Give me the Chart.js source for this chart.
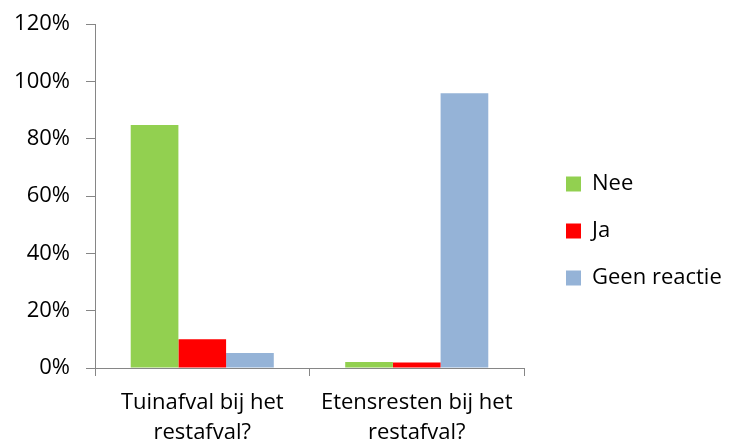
<!DOCTYPE html>
<html>
<head>
<meta charset="utf-8">
<script src="https://cdn.jsdelivr.net/npm/chart.js@4/dist/chart.umd.min.js"></script>
<style>
  body { margin: 0; background: #fff; }
  canvas { display: block; }
</style>
</head>
<body>
<canvas id="chart" width="734" height="446"></canvas>
<script>
// categories and series (percentages)
const categories = [['Tuinafval bij het', 'restafval?'], ['Etensresten bij het', 'restafval?']];
const nee = [84.8, 2.1];
const ja = [10.0, 1.9];
const geenReactie = [5.2, 95.8];
const yTicks = [0, 20, 40, 60, 80, 100, 120];

const axisGrey = '#868686';
const fontFamily = '"Open Sans", "Noto Sans", sans-serif';

// legend takes a fixed width, items start a bit away from the plot
const legendSpace = {
  id: 'legendSpace',
  beforeLayout(chart) {
    const lg = chart.legend;
    if (lg && !lg._wrapped) {
      const fit = lg.fit;
      lg.fit = function () { fit.call(this); this.width = 210; };
      lg._wrapped = true;
    }
  },
  afterLayout(chart) {
    const lg = chart.legend;
    if (lg) { lg.left += 17; lg.top -= 8; }
  }
};

const ctx = document.getElementById('chart').getContext('2d');
const chart = new Chart(ctx, {
  type: 'bar',
  data: {
    labels: categories,
    datasets: [
      { label: 'Nee', data: nee, backgroundColor: '#92D050' },
      { label: 'Ja', data: ja, backgroundColor: '#FF0000' },
      { label: 'Geen reactie', data: geenReactie, backgroundColor: '#95B3D7' }
    ]
  },
  plugins: [legendSpace],
  options: {
    responsive: false,
    animation: false,
    layout: { padding: { top: 24, right: 0, bottom: 0, left: 0 } },
    datasets: {
      bar: { categoryPercentage: 0.667, barPercentage: 1.0 }
    },
    plugins: {
      tooltip: { enabled: false },
      legend: {
        position: 'right',
        labels: {
          boxWidth: 15,
          boxHeight: 15,
          padding: 25,
          color: '#000',
          font: { family: fontFamily, size: 22 }
        }
      }
    },
    scales: {
      x: {
        afterFit(scale) { scale.height = 78; },
        grid: {
          offset: true,
          drawOnChartArea: false,
          drawTicks: true,
          tickLength: 8,
          color: axisGrey
        },
        border: { color: axisGrey, width: 1 },
        ticks: {
          padding: 12,
          color: '#000',
          font: { family: fontFamily, size: 22, lineHeight: 1.36 },
          maxRotation: 0
        }
      },
      y: {
        min: 0,
        max: 120,
        afterFit(scale) {
          scale.width = 95;
          scale.paddingTop = 12;
          scale.paddingBottom = 12;
        },
        afterBuildTicks(scale) { scale.ticks = yTicks.map(v => ({ value: v })); },
        grid: {
          drawOnChartArea: false,
          drawTicks: true,
          tickLength: 9,
          color: axisGrey
        },
        border: { color: axisGrey, width: 1 },
        ticks: {
          padding: 16,
          color: '#000',
          font: { family: fontFamily, size: 22 },
          callback: v => v + '%'
        }
      }
    }
  }
});
</script>
</body>
</html>
